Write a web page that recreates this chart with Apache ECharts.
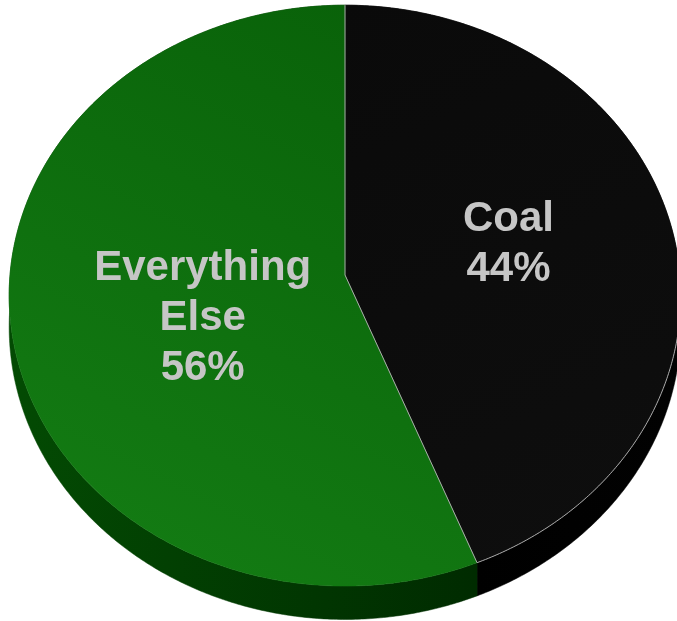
<!DOCTYPE html>
<html><head><meta charset="utf-8">
<script src="https://cdn.jsdelivr.net/npm/echarts@6/dist/echarts.min.js"></script>
<style>html,body{margin:0;padding:0;background:#fff;overflow:hidden}#c{width:677px;height:621px}</style>
</head><body><div id="c"></div>
<script>
// ---- data ----
const categories = ['Coal', 'Everything Else'];
const values = [44, 56];
const percentLabels = ['44%', '56%'];
const nameLines = [['Coal'], ['Everything', 'Else']];

// ---- styling / geometry (not data) ----
const geo = { x0: 345, y0: 275, A: 335, B: 289, k: 0.071, T: 31 };
const labelPlace = [{ r: 0.5, dx: 0, dy: -4 }, { r: 0.43, dx: 0, dy: 20 }];
const G = echarts.graphic;
const topFill = [
  new G.LinearGradient(345, 0, 600, 560, [{offset:0,color:'#0a0a0a'},{offset:1,color:'#0e0e0e'}], true),
  new G.LinearGradient(345, 0, 80, 520, [{offset:0,color:'#096209'},{offset:1,color:'#137b13'}], true)
];
const sideFill = [
  new G.LinearGradient(470, 0, 677, 0, [{offset:0,color:'#000000'},{offset:1,color:'#020202'}], true),
  new G.LinearGradient(20, 0, 475, 0, [{offset:0,color:'#034a03'},{offset:1,color:'#002b00'}], true)
];
const edgeColor = '#a8a8a8';

const total = values.reduce((a, b) => a + b, 0);
const starts = [];
let acc = 0;
values.forEach(v => { starts.push(acc / total * Math.PI * 2); acc += v; });

function proj(theta, r, drop) {
  const X = Math.sin(theta) * r, Z = Math.cos(theta) * r;
  const s = 1 / (1 + geo.k * Z);
  return [geo.x0 + geo.A * X * s, geo.y0 - geo.B * Z * s + (drop ? geo.T * s : 0)];
}
function arc(a0, a1, drop) {
  const pts = [];
  const n = Math.max(4, Math.ceil((a1 - a0) / (Math.PI / 360)));
  for (let i = 0; i <= n; i++) pts.push(proj(a0 + (a1 - a0) * i / n, 1, drop));
  return pts;
}

const data = categories.map((c, i) => ({ name: c, value: values[i] }));

const chart = echarts.init(document.getElementById('c'));
chart.setOption({
  animation: false,
  series: [
    {
      type: 'custom', coordinateSystem: 'none', data: data, z: 1,
      renderItem: function (params, api) {
        const i = params.dataIndex;
        const a0 = starts[i], a1 = a0 + api.value(0) / total * Math.PI * 2;
        const pts = arc(a0, a1, false).concat(arc(a0, a1, true).reverse());
        return { type: 'polygon', shape: { points: pts }, style: { fill: sideFill[i], stroke: sideFill[i], lineWidth: 0.5 } };
      }
    },
    {
      type: 'custom', coordinateSystem: 'none', data: data, z: 2,
      renderItem: function (params, api) {
        const i = params.dataIndex;
        const a0 = starts[i], a1 = a0 + api.value(0) / total * Math.PI * 2;
        const pts = [[geo.x0, geo.y0]].concat(arc(a0, a1, false));
        const mid = (a0 + a1) / 2;
        const lp = proj(mid, labelPlace[i].r, false);
        const children = [
          { type: 'polygon', z2: 1, shape: { points: pts },
            style: { fill: topFill[i], stroke: topFill[i], lineWidth: 0.5 } },
          // radial boundary at slice start
          { type: 'polyline', z2: 5, shape: { points: [[geo.x0, geo.y0], proj(a0, 1, false)] },
            style: { stroke: edgeColor, lineWidth: 1, fill: null } },
          { type: 'text', z2: 10, style: {
              text: nameLines[i].concat([percentLabels[i]]).join('\n'),
              x: lp[0] + labelPlace[i].dx, y: lp[1] + labelPlace[i].dy,
              align: 'center', verticalAlign: 'middle',
              fill: '#c6c6c6', fontSize: 42, fontWeight: 'bold',
              fontFamily: '"Liberation Sans", Arial, sans-serif', lineHeight: 50 } }
        ];
        // edge between top face and visible side for the slice on the right
        const visStart = Math.max(a0, Math.PI * 0.55), visEnd = Math.min(a1, Math.PI * 1.45);
        if (i === 0 && visEnd > visStart) {
          children.push({ type: 'polyline', z2: 5, shape: { points: arc(visStart, visEnd, false) },
            style: { stroke: edgeColor, lineWidth: 1, fill: null } });
        }
        return { type: 'group', children: children };
      }
    }
  ]
});
</script></body></html>
